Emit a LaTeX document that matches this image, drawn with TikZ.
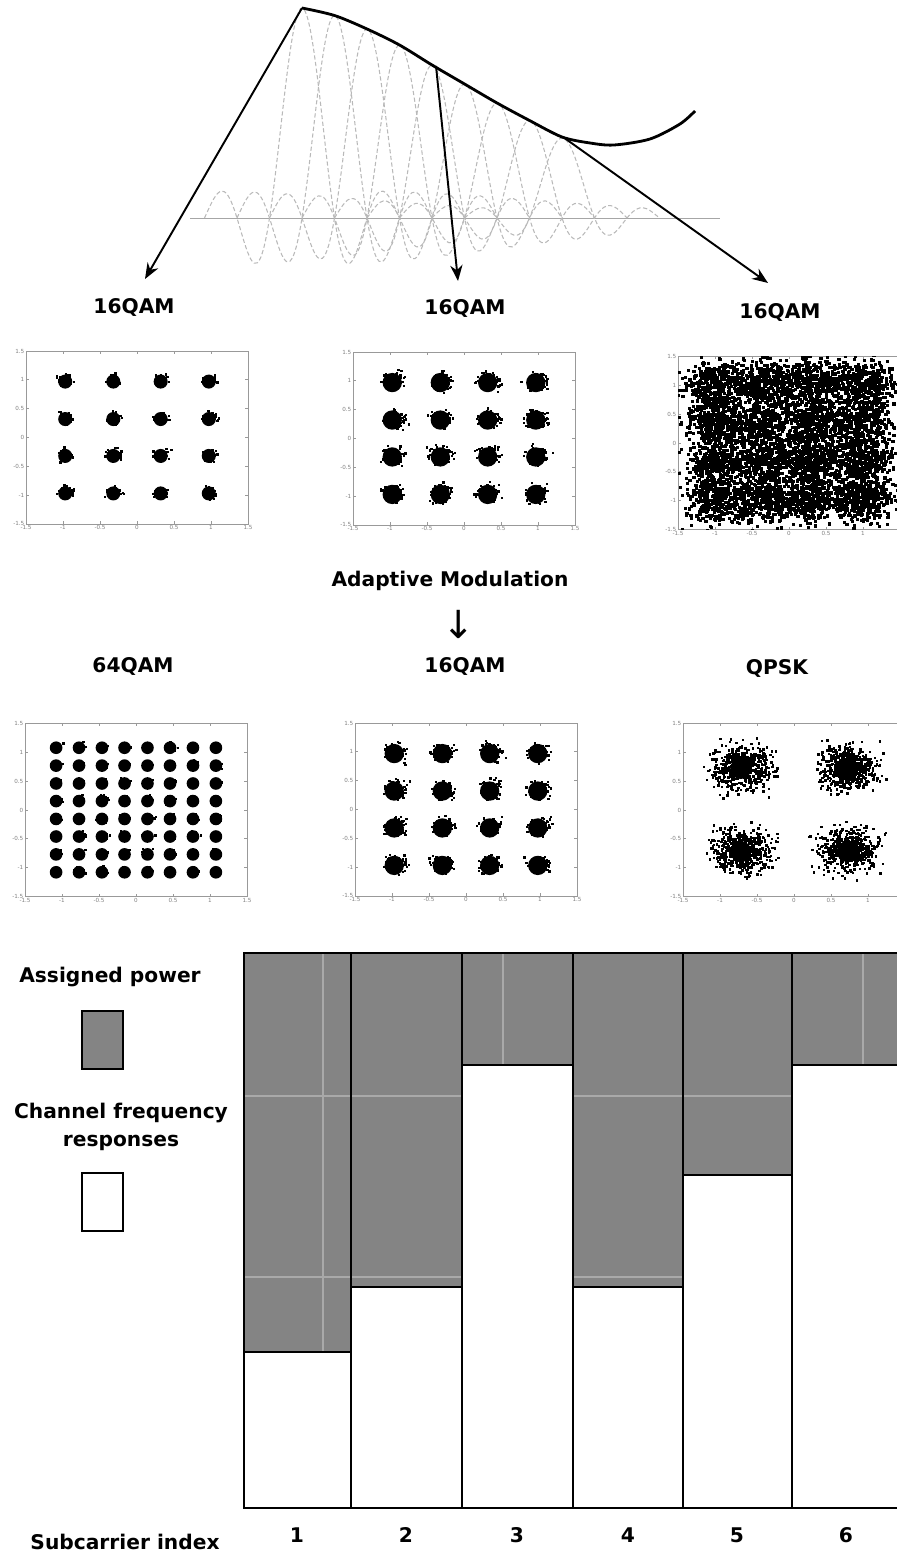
\documentclass[tikz,border=0pt]{standalone}
\usepackage{fontspec}
\setmainfont{DejaVu Sans}
\usetikzlibrary{arrows.meta,positioning}

\definecolor{powergray}{RGB}{132,132,132}

% frame, ticks and tick labels of one constellation plot (axis units)
\newcommand{\plotaxes}[1][-1.5,-1,-0.5,0,0.5,1,1.5]{%
  \draw[frame] (-1.5,-1.5) rectangle (1.5,1.5);
  \foreach \t in {-1.5,-1,-0.5,0,0.5,1,1.5} {
    \draw[frame] (\t,-1.5) -- ++(0,0.05) (\t,1.5) -- ++(0,-0.05)
                 (-1.5,\t) -- ++(0.04,0) (1.5,\t) -- ++(-0.04,0);
    \node[ticklab, anchor=east] at (-1.5,\t) {\t};
  }
  \foreach \t in {#1} {\node[ticklab, anchor=north] at (\t,-1.5) {\t};}}
% one noisy cluster: x, y, sigma, count, core radius, dot size
\newcommand{\cloud}[6]{%
  \fill (#1,#2) circle[radius=#5];
  \foreach \i in {1,...,#4} {\fill ({#1+#3*(rand+rand+rand)},{#2+#3*(rand+rand+rand)}) rectangle ++(#6,#6);}
}

\begin{document}
\begin{tikzpicture}[
    x=0.02cm, y=-0.02cm,
    lab/.style={font=\fontsize{11.5}{16.4}\selectfont\bfseries, inner sep=0pt, align=center},
    ticklab/.style={font=\fontsize{3.2}{3.5}\selectfont, text=gray, inner sep=0.8pt},
    frame/.style={draw=gray!80, line width=0.5pt},
    subc/.style={gray!55, dash pattern=on 2.4pt off 1.4pt, line width=0.6pt},
    arrow/.style={-{Stealth[length=9pt,width=7pt]}, line width=1.1pt},
    bar/.style={line width=1.2pt}
]
    \useasboundingbox (0,0) rectangle (896,1554);
    \pgfmathsetseed{4711}

    % subcarrier spectra
    \draw[gray!70, line width=0.5pt] (190,218) -- (720,218);
    \foreach \xc/\amp in {302/210, 334.5/202.5, 367/189, 399.5/173, 432/153, 464.5/134, 497/115, 529.5/97.5, 562/80} {
        \draw[subc] plot[domain=-3:3, samples=60, smooth] ({\xc+32.5*\x},{218-\amp*sin(180*\x)/(pi*\x)});
    }
    \draw[line width=1.6pt] plot[smooth] coordinates {(302,8) (334.5,15.5) (367,29) (399.5,45) (432,65) (464.5,84) (497,103) (529.5,120.5) (562,137) (590,143) (614,145) (650,139) (680,124) (695,111)};

    \coordinate (peak) at (302,8);
    \coordinate (midtop) at (436,66);
    \coordinate (righttop) at (563,137);
    \coordinate (tipL) at (145,279);
    \coordinate (tipM) at (458,281);
    \coordinate (tipR) at (768,283);
    \draw[arrow] (peak) -- (tipL);
    \draw[arrow] (midtop) -- (tipM);
    \draw[arrow] (righttop) -- (tipR);

    % labels
    \node[lab] (qamA) at (134,307) {16QAM};
    \node[lab] (qamB) at (465,308) {16QAM};
    \node[lab] (qamC) at (780,312) {16QAM};
    \node[lab] (adapt) at (450,581) {Adaptive Modulation};
    \node[lab, font=\fontsize{22}{22}\selectfont] (down) at (459,624) {↓};
    \node[lab] (qam64) at (133,666) {64QAM};
    \node[lab] (qamD) at (465,666) {16QAM};
    \node[lab] (qpsk) at (777,668) {QPSK};

    % constellations, row 1
    \begin{scope}[shift={(137,437.5)}, x=1.48cm, y=1.1533cm]
        \plotaxes
        \foreach \a in {-0.97,-0.32,0.32,0.97} \foreach \b in {-0.97,-0.32,0.32,0.97} {\cloud{\a}{\b}{0.05}{40}{4pt}{1.3pt}}
    \end{scope}
    \begin{scope}[shift={(464,438.5)}, x=1.48cm, y=1.1533cm]
        \plotaxes
        \foreach \a in {-0.97,-0.32,0.32,0.97} \foreach \b in {-0.97,-0.32,0.32,0.97} {\cloud{\a}{\b}{0.075}{80}{5.5pt}{1.3pt}}
    \end{scope}
    \begin{scope}[shift={(789,443)}, x=1.48cm, y=1.1533cm]
        \plotaxes[-1.5,-1,-0.5,0,0.5,1]
        \begin{scope}
            \clip (-1.5,-1.5) rectangle (1.5,1.5);
            \foreach \a in {-1,-0.333,0.333,1} \foreach \b in {-1,-0.333,0.333,1} {\cloud{\a}{\b}{0.2}{370}{0pt}{1.8pt}}
        \end{scope}
    \end{scope}

    % constellations, row 2
    \begin{scope}[shift={(136,810)}, x=1.48cm, y=1.1533cm]
        \plotaxes
        \foreach \a in {-1.08,-0.77,-0.46,-0.155,0.155,0.46,0.77,1.08}
            \foreach \b in {-1.08,-0.77,-0.46,-0.155,0.155,0.46,0.77,1.08} {\cloud{\a}{\b}{0.035}{12}{3.6pt}{1.3pt}}
    \end{scope}
    \begin{scope}[shift={(466,809.5)}, x=1.48cm, y=1.1533cm]
        \plotaxes
        \foreach \a in {-0.97,-0.32,0.32,0.97} \foreach \b in {-0.97,-0.32,0.32,0.97} {\cloud{\a}{\b}{0.075}{80}{5.5pt}{1.3pt}}
    \end{scope}
    \begin{scope}[shift={(794,810)}, x=1.48cm, y=1.1533cm]
        \plotaxes[-1.5,-1,-0.5,0,0.5,1]
        \foreach \a in {-0.72,0.72} \foreach \b in {-0.72,0.72} {\cloud{\a}{\b}{0.19}{550}{6pt}{1.4pt}}
    \end{scope}

    % power allocation bars
    \foreach \xa/\xb/\yb in {244/351/1352, 351/462/1287, 462/573/1065, 573/683/1287, 683/792/1175, 792/905/1065} {
        \fill[powergray] (\xa,953) rectangle (\xb,\yb);
    }
    \draw[white, opacity=0.3, line width=0.6pt] (323,953) -- (323,1508) (503,953) -- (503,1508) (863,953) -- (863,1508)
        (244,1096) -- (905,1096) (244,1277) -- (905,1277);
    \foreach \xa/\xb/\yb in {244/351/1352, 351/462/1287, 462/573/1065, 573/683/1287, 683/792/1175, 792/905/1065} {
        \draw[bar] (\xa,953) rectangle (\xb,1508);
        \draw[bar] (\xa,\yb) -- (\xb,\yb);
    }

    % legend
    \node[lab] (assigned) at (110,977) {Assigned power};
    \draw[bar, fill=powergray] (82,1011) rectangle (123,1069);
    \node[lab] (channel) at (121,1127) {Channel frequency\\responses};
    \draw[bar, fill=white] (82,1173) rectangle (123,1231);

    % subcarrier index
    \node[lab] (subc) at (125,1542) {Subcarrier index};
    \foreach \xn [count=\n] in {297,406,517,628,737,846} {
        \node[lab] (num\n) at (\xn,1535) {\n};
    }
\end{tikzpicture}
\end{document}
